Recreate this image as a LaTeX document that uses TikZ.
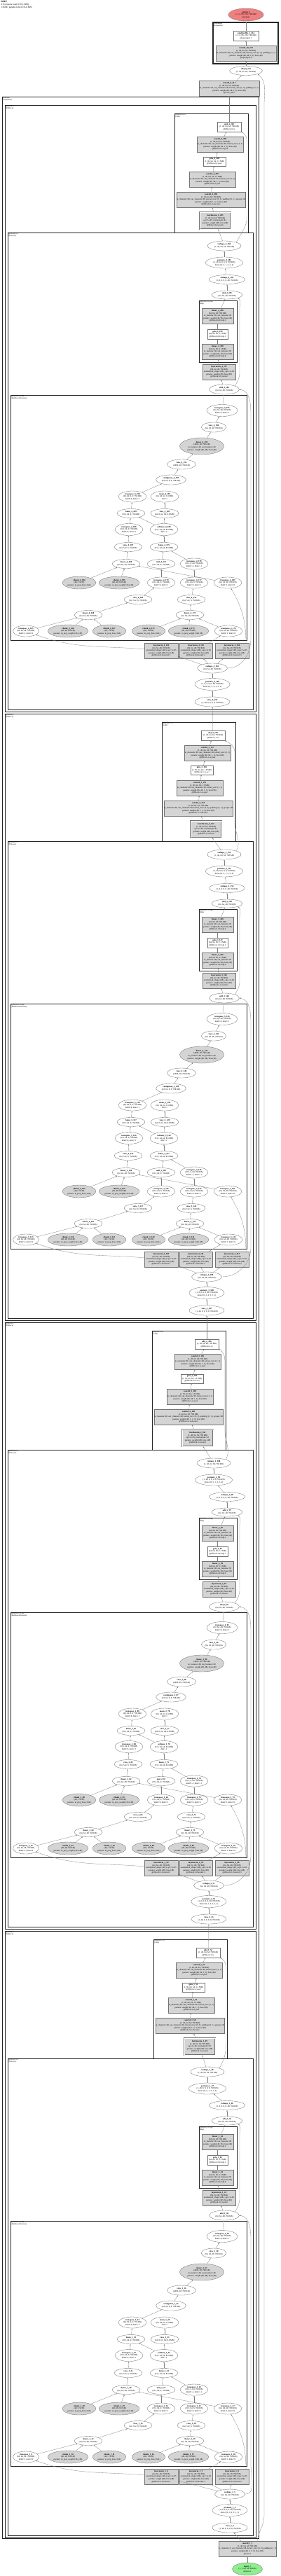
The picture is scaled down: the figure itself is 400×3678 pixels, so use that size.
\documentclass[tikz,border=0pt]{standalone}
\usepackage{fontspec}
\setmainfont{Liberation Serif}
\usetikzlibrary{arrows.meta,shapes.geometric}
\definecolor{outred}{HTML}{F08080}
\definecolor{ingreen}{HTML}{90EE90}
\newcommand\sz{\fontsize{3}{3.6}\selectfont}
\newcommand\ov[1]{\makebox[0pt]{#1}}
\newcommand\nm[2]{\textbf{#1\_\cc\_\the\numexpr\nb+#2\relax}}

\begin{document}
\begin{tikzpicture}[x=1pt,y=-1pt,
  el/.style={draw=black!55,ellipse,line width=0.35pt,inner sep=0pt,align=center,font=\sz,minimum width=40,minimum height=13},
  gel/.style={el,fill=black!17},
  bx/.style={draw=black!55,rectangle,line width=0.35pt,inner sep=0.4pt,align=center,font=\sz},
  gbx/.style={bx,fill=black!17},
  mod/.style={draw=black!85,line width=0.7pt},
  modlab/.style={anchor=north west,align=left,inner sep=0.8pt,font=\fontsize{2.6}{3}\selectfont},
  edge/.style={draw=black!50,line width=0.3pt,-{Latex[length=2pt,width=1.6pt]}}]
  \useasboundingbox (0,0) rectangle (400,3678);
  \node[anchor=north west,align=left,inner sep=0pt,font=\fontsize{3.4}{4}\selectfont] (title) at (1.5,1) {\textbf{DMN}\\215 tensors total (107.1 MB)\\136947 params total (535.0 KB)};

  % output side
  \node[el,fill=outred,minimum width=50,minimum height=18] (out) at (351,21) {\textbf{output\_1}\\(1, 3, 256, 256; 768 KB)\\@output};
  \draw[mod,line width=1.2pt] (304,32) rectangle (397,91);
  \node[modlab] (lupsample) at (304,32) {@upsample\\(Sequential)};
  \node[bx,minimum width=36,minimum height=14] (pshuf) at (351,51) {\textbf{pixelshuffle\_1\_214}\\(1, 3, 256, 256; 768 KB)\\@upsample.1};
  \node[gbx,minimum width=86,minimum height=22] (convup) at (351,76) {\textbf{conv2d\_10\_213}\\(1, 48, 64, 64; 768 KB)\\\ov{in\_channels=48, out\_channels=48, kernel\_size=(3, 3), padding=(1, 1)}\\params: weight (48, 48, 3, 3), bias (48)\\@upsample.0};
  \node[el,minimum width=47,minimum height=13] (add251) at (351,101) {\textbf{add\_9\_212}\\(1, 48, 64, 64; 768 KB)};
  \node[gbx,minimum width=86,minimum height=22] (convafter) at (327,126) {\textbf{conv2d\_9\_211}\\(1, 48, 64, 64; 768 KB)\\\ov{in\_channels=48, out\_channels=48, kernel\_size=(3, 3), padding=(1, 1)}\\params: weight (48, 48, 3, 3), bias (48)\\@conv\_after};
  \draw[mod,line width=0.9pt] (3,138) rectangle (369,3624);
  \node[modlab] (lseq) at (3,138) {@tfblock\\(Sequential)};

  % the four blocks
  \foreach \k/\cx/\ax/\tx/\bx/\bo/\nb/\cc in {0/249/327/320/303/58/159/4,1/231/304/320/295/63/107/3,2/217/295/305/298/65/55/2,3/219/297/296/328/66/3/1}{
  \begin{scope}[shift={(0,869*\k)}]
    \draw[mod,line width=0.9pt] (7,150) rectangle (365,1016);
    \node[modlab] (b\k-lab) at (7,150) {@tfblock.\k\\(TFBlock)};
    \draw[mod] (\cx,162) rectangle (\cx+105,332);
    \node[modlab] (b\k-calab) at (\cx,162) {@tfblock.\k.ca\\(CAB)};
    \node[bx,minimum width=34,minimum height=14] (b\k-caadd) at (\ax,181) {\nm{add}{51}\\(1, 48, 64, 64; 768 KB)\\@tfblock.\k.ca};
    \node[gbx,minimum width=66,minimum height=22] (b\k-pw2) at (\cx+65,206) {\nm{conv2d}{50}\\(1, 48, 64, 64; 768 KB)\\\ov{in\_channels=96, out\_channels=48, kernel\_size=(1, 1)}\\\ov{params: weight (48, 96, 1, 1), bias (48)}\\@tfblock.\k.ca.pw2};
    \node[bx,minimum width=32,minimum height=13] (b\k-act) at (\cx+57,230.5) {\nm{gelu}{49}\\(1, 96, 64, 64; 1.5 MB)\\@tfblock.\k.ca.act};
    \node[gbx,minimum width=66,minimum height=22] (b\k-pw1) at (\cx+54,256) {\nm{conv2d}{48}\\(1, 96, 64, 64; 1.5 MB)\\\ov{in\_channels=48, out\_channels=96, kernel\_size=(1, 1)}\\\ov{params: weight (96, 48, 1, 1), bias (96)}\\@tfblock.\k.ca.pw1};
    \node[gbx,minimum width=98,minimum height=22] (b\k-dw) at (\cx+52,285) {\nm{conv2d}{47}\\(1, 48, 64, 64; 768 KB)\\\ov{in\_channels=48, out\_channels=48, kernel\_size=(3, 3), padding=(1, 1), groups=48}\\params: weight (48, 1, 3, 3), bias (48)\\@tfblock.\k.ca.dwconv};
    \node[gbx,double,minimum width=44,minimum height=24] (b\k-bn) at (\cx+\bo,315) {\nm{batchnorm}{46}\\(1, 48, 64, 64; 768 KB)\\eps=1e-05, momentum=0.1\\\ov{params: weight (48), bias (48)}\\@tfblock.\k.ca.norm};

    \draw[mod] (11,332) rectangle (361,1013);
    \node[modlab] (b\k-tflab) at (11,332) {@tfblock.\k.tf\\(TFLayer)};
    \node[el,minimum width=48,minimum height=14] (b\k-r14) at (\tx,351) {\nm{reshape}{45}\\(1, 48, 64, 64; 768 KB)};
    \node[el,minimum width=53,minimum height=16] (b\k-pm1) at (\tx,375) {\nm{permute}{44}\\(1, 48, 8, 8, 8, 8; 768 KB)\\dims=(0, 5, 1, 3, 2, 4)};
    \node[el,minimum width=51] (b\k-r13) at (324,399) {\nm{reshape}{43}\\(1, 8, 8, 8, 8, 48; 768 KB)};
    \node[el,minimum width=44,minimum height=12] (b\k-addm) at (324,421) {\nm{add}{42}\\(64, 64, 48; 768 KB)};
    \draw[mod,line width=0.6pt] (284,429) rectangle (338,517);
    \node[modlab] (b\k-mlplab) at (284,429) {@tfblock.\k.tf.mlp\\(Mlp)};
    \node[gbx,minimum width=45,minimum height=22] (b\k-fc2) at (310.5,451) {\nm{linear}{41}\\(64, 64, 48; 768 KB)\\\ov{in\_features=96, out\_features=48}\\\ov{params: weight (48, 96), bias (48)}\\@tfblock.\k.tf.mlp.2};
    \node[bx,minimum width=29,minimum height=14] (b\k-gl) at (310.5,477) {\nm{gelu}{40}\\(64, 64, 96; 1.5 MB)\\@tfblock.\k.tf.mlp.1};
    \node[gbx,minimum width=45,minimum height=22] (b\k-fc1) at (310.5,502) {\nm{linear}{39}\\(64, 64, 96; 1.5 MB)\\\ov{in\_features=48, out\_features=96}\\\ov{params: weight (96, 48), bias (96)}\\@tfblock.\k.tf.mlp.0};
    \node[gbx,minimum width=47,minimum height=22] (b\k-ln2) at (312.5,531) {\nm{layernorm}{38}\\(64, 64, 48; 768 KB)\\\ov{normalized\_shape=(48,), eps=1e-05}\\\ov{params: weight (48), bias (48)}\\@tfblock.\k.tf.norm2};
    \node[el,minimum width=43,minimum height=14] (b\k-adda) at (320,556) {\nm{add}{37}\\(64, 64, 48; 768 KB)};

    % attention
    \draw[mod,line width=0.6pt] (15,564) rectangle (352,914);
    \node[modlab] (b\k-attnlab) at (15,564) {@tfblock.\k.tf.attn\\(MultiheadAttention)};
    \node[el,minimum width=44,minimum height=17] (b\k-tr) at (317,586) {\nm{transpose}{36}\\(64, 64, 48; 768 KB)\\dim0=0, dim1=1};
    \node[el,minimum width=35,minimum height=14] (b\k-vo) at (305,610) {\nm{view}{35}\\(64, 64, 48; 768 KB)};
    \node[gel,minimum width=63,minimum height=24] (b\k-proj) at (288,637) {\nm{linear}{34}\\(4096, 48; 768 KB)\\in\_features=48, out\_features=48\\params: weight (48, 48), bias (48)};
    \node[el,minimum width=41,minimum height=14] (b\k-vp) at (259,663) {\nm{view}{33}\\(4096, 48; 768 KB)};
    \node[el,minimum width=43,minimum height=14] (b\k-ct) at (244,685) {\nm{contiguous}{32}\\(64, 64, 8, 6; 768 KB)};
    \node[el,minimum height=16] (b\k-a1) at (189,709) {\nm{transpose}{31}\\(64, 64, 8, 6; 768 KB)\\dim0=0, dim1=1};
    \node[el,minimum height=16] (b\k-a2) at (235,709) {\nm{mean}{23}\\(64, 64, 64; 1.0 MB)\\dim=1};
    \node[el] (b\k-b1) at (187,733) {\nm{bmm}{30}\\(512, 64, 6; 768 KB)};
    \node[el] (b\k-b2) at (235,733) {\nm{view}{22}\\(64, 8, 64, 64; 8.0 MB)};
    \node[el,minimum height=17] (b\k-c1) at (184,756) {\nm{transpose}{29}\\(512, 64, 6; 768 KB)\\dim0=0, dim1=1};
    \node[el,minimum height=17] (b\k-c2) at (234,756) {\nm{softmax}{21}\\(512, 64, 64; 8.0 MB)\\dim=-1};
    \node[el] (b\k-d1) at (183,781) {\nm{view}{28}\\(64, 512, 6; 768 KB)};
    \node[el] (b\k-d2) at (234,781) {\nm{bmm}{20}\\(512, 64, 64; 8.0 MB)};
    \node[el] (b\k-e1) at (180,805) {\nm{linear}{27}\\(64, 64, 48; 768 KB)};
    \node[el] (b\k-e2) at (230,805) {\nm{mul}{12}\\(512, 64, 6; 768 KB)};
    \node[el,minimum height=16] (b\k-e3) at (277,805) {\nm{transpose}{19}\\(512, 6, 64; 768 KB)\\dim0=-2, dim1=-1};
    \node[gel,minimum height=18] (b\k-f1) at (113,832) {\nm{chunk}{25}\\(48,; 192 B)\\params: in\_proj\_bias (144,)};
    \node[gel,minimum height=18] (b\k-f2) at (170,832) {\nm{chunk}{26}\\(48, 48; 9.0 KB)\\params: in\_proj\_weight (144, 48)};
    \node[el,minimum height=16] (b\k-f3) at (230,832) {\nm{transpose}{11}\\(512, 64, 6; 768 KB)\\dim0=0, dim1=1};
    \node[el,minimum height=16] (b\k-f4) at (277,832) {\nm{transpose}{18}\\(512, 64, 6; 768 KB)\\dim0=0, dim1=1};
    \node[el,minimum height=16] (b\k-f5) at (325,832) {\nm{transpose}{24}\\(64, 64, 48; 768 KB)\\dim0=1, dim1=0};
    \node[el] (b\k-g1) at (197,856) {\nm{view}{10}\\(64, 512, 6; 768 KB)};
    \node[el] (b\k-g2) at (273,856) {\nm{view}{17}\\(64, 512, 6; 768 KB)};
    \node[el] (b\k-h1) at (126,878) {\nm{linear}{9}\\(64, 64, 48; 768 KB)};
    \node[el] (b\k-h2) at (271,878) {\nm{linear}{16}\\(64, 64, 48; 768 KB)};
    \node[el,minimum width=37,minimum height=16] (b\k-i1) at (37,901) {\nm{transpose}{6}\\(64, 64, 48; 768 KB)\\dim0=1, dim1=0};
    \node[gel,minimum height=18] (b\k-i2) at (97,901) {\nm{chunk}{7}\\(48, 48; 9.0 KB)\\params: in\_proj\_weight (144, 48)};
    \node[gel,minimum height=18] (b\k-i3) at (156,901) {\nm{chunk}{8}\\(48,; 192 B)\\params: in\_proj\_bias (144,)};
    \node[gel,minimum height=18] (b\k-i4) at (212,901) {\nm{chunk}{13}\\(48,; 192 B)\\params: in\_proj\_bias (144,)};
    \node[gel,minimum height=18] (b\k-i5) at (269,901) {\nm{chunk}{14}\\(48, 48; 9.0 KB)\\params: in\_proj\_weight (144, 48)};
    \node[el,minimum height=16] (b\k-i6) at (326,901) {\nm{transpose}{15}\\(64, 64, 48; 768 KB)\\dim0=1, dim1=0};

    % input side of the layer
    \node[gbx,minimum width=48,minimum height=22] (b\k-lna) at (230,929) {\nm{layernorm}{3}\\(64, 64, 48; 768 KB)\\\ov{normalized\_shape=(48,), eps=1e-05}\\\ov{params: weight (48), bias (48)}\\@tfblock.\k.tf.norm1:1};
    \node[gbx,minimum width=47,minimum height=22] (b\k-lnb) at (279.5,929) {\nm{layernorm}{4}\\(64, 64, 48; 768 KB)\\\ov{normalized\_shape=(48,), eps=1e-05}\\\ov{params: weight (48), bias (48)}\\@tfblock.\k.tf.norm1:2};
    \node[gbx,minimum width=48,minimum height=22] (b\k-lnc) at (331,929) {\nm{layernorm}{5}\\(64, 64, 48; 768 KB)\\\ov{normalized\_shape=(48,), eps=1e-05}\\\ov{params: weight (48), bias (48)}\\@tfblock.\k.tf.norm1:3};
    \node[el,minimum width=43,minimum height=14] (b\k-r) at (\bx,954) {\nm{reshape}{2}\\(64, 64, 48; 768 KB)};
    \node[el,minimum width=50,minimum height=17] (b\k-p) at (\bx,977) {\nm{permute}{1}\\(1, 8, 8, 8, 8, 48; 768 KB)\\dims=(0, 2, 4, 3, 5, 1)};
    \node[el,minimum width=50,minimum height=14] (b\k-v) at (\bx,1002) {\nm{view}{0}\\(1, 48, 8, 8, 8, 8; 768 KB)};
    \coordinate (b\k-s1) at (358,912);
    \coordinate (b\k-s2) at (358,592);
    \coordinate (b\k-m1) at (342,532);
    \coordinate (b\k-m2) at (342,440);
    \coordinate (b\k-q1) at (\cx+104,305);
    \coordinate (b\k-q2) at (\cx+104,205);

    \draw[edge] (b\k-v) -- (b\k-p);
    \draw[edge] (b\k-p) -- (b\k-r);
    \draw[edge] (b\k-r) -- (b\k-lna);
    \draw[edge] (b\k-r) -- (b\k-lnb);
    \draw[edge] (b\k-r) -- (b\k-lnc);
    \draw[edge] (b\k-r.east) to[out=0,in=-90] (b\k-s1) -- (b\k-s2) to[out=90,in=-10] (b\k-adda.east);
    \draw[edge] (b\k-lna) to[out=175,in=-20] (b\k-i1);
    \draw[edge] (b\k-lnb) -- (b\k-i6);
    \draw[edge] ([xshift=20pt]b\k-lnc.north) to[out=90,in=-60] (b\k-f5);
    \draw[edge] (b\k-i1) -- (b\k-h1);
    \draw[edge] (b\k-i2) -- (b\k-h1);
    \draw[edge] (b\k-i3) -- (b\k-h1);
    \draw[edge] (b\k-i4) -- (b\k-h2);
    \draw[edge] (b\k-i5) -- (b\k-h2);
    \draw[edge] (b\k-i6) -- (b\k-h2);
    \draw[edge] (b\k-h1) -- (b\k-g1);
    \draw[edge] (b\k-h2) -- (b\k-g2);
    \draw[edge] (b\k-g1) -- (b\k-f3);
    \draw[edge] (b\k-g2) -- (b\k-f4);
    \draw[edge] (b\k-f1) -- (b\k-e1);
    \draw[edge] (b\k-f2) -- (b\k-e1);
    \draw[edge] (b\k-f5) -- (b\k-e1);
    \draw[edge] (b\k-f3) -- (b\k-e2);
    \draw[edge] (b\k-f4) -- (b\k-e3);
    \draw[edge] (b\k-e1) -- (b\k-d1);
    \draw[edge] (b\k-e2) -- (b\k-d2);
    \draw[edge] (b\k-e3) -- (b\k-d2);
    \draw[edge] (b\k-d1) -- (b\k-c1);
    \draw[edge] (b\k-d2) -- (b\k-c2);
    \draw[edge] (b\k-c1) -- (b\k-b1);
    \draw[edge] (b\k-c2) -- (b\k-b1);
    \draw[edge] (b\k-c2) -- (b\k-b2);
    \draw[edge] (b\k-b1) -- (b\k-a1);
    \draw[edge] (b\k-b2) -- (b\k-a2);
    \draw[edge] (b\k-a1) -- (b\k-ct);
    \draw[edge] (b\k-ct) -- (b\k-vp);
    \draw[edge] (b\k-vp) -- (b\k-proj);
    \draw[edge] (b\k-proj) -- (b\k-vo);
    \draw[edge] (b\k-vo) -- (b\k-tr);
    \draw[edge] (b\k-tr) -- (b\k-adda);
    \draw[edge] (b\k-adda) -- (b\k-ln2);
    \draw[edge] (b\k-ln2) -- (b\k-fc1);
    \draw[edge] (b\k-fc1) -- (b\k-gl);
    \draw[edge] (b\k-gl) -- (b\k-fc2);
    \draw[edge] (b\k-fc2) -- (b\k-addm);
    \draw[edge] (b\k-adda.north east) to[out=60,in=-90] (b\k-m1) -- (b\k-m2) to[out=90,in=-45] (b\k-addm.south east);
    \draw[edge] (b\k-addm) -- (b\k-r13);
    \draw[edge] (b\k-r13) -- (b\k-pm1);
    \draw[edge] (b\k-pm1) -- (b\k-r14);
    \draw[edge] (b\k-r14) -- (b\k-bn);
    \draw[edge] (b\k-bn) -- (b\k-dw);
    \draw[edge] (b\k-dw) -- (b\k-pw1);
    \draw[edge] (b\k-pw1) -- (b\k-act);
    \draw[edge] (b\k-act) -- (b\k-pw2);
    \draw[edge] (b\k-pw2) -- (b\k-caadd);
    \draw[edge] (b\k-r14.north east) to[out=60,in=-90] (b\k-q1) -- (b\k-q2) to[out=90,in=-30] (b\k-caadd.south east);
  \end{scope}
  }

  % input side
  \node[gbx,minimum width=82,minimum height=22] (conv1) at (353,3639) {\textbf{conv2d\_1\_1}\\(1, 48, 64, 64; 768 KB)\\\ov{in\_channels=3, out\_channels=48, kernel\_size=(3, 3), padding=(1, 1)}\\params: weight (48, 3, 3, 3), bias (48)\\@conv1};
  \node[el,fill=ingreen,minimum width=43,minimum height=18] (in) at (353,3668) {\textbf{input\_1}\\(1, 3, 64, 64; 48 KB)\\@input.x};
  \coordinate (skA) at (377,3590);
  \coordinate (skB) at (377,150);

  \foreach \k/\j in {1/0,2/1,3/2}{\draw[edge] (b\k-caadd) -- (b\j-v);}
  \draw[edge] (b0-caadd) -- (convafter);
  \draw[edge] (convafter) -- (add251);
  \draw[edge] (add251) -- (convup);
  \draw[edge] (convup) -- (pshuf);
  \draw[edge] (pshuf) -- (out);
  \draw[edge] (in) -- (conv1);
  \draw[edge] (conv1) -- (b3-v);
  \draw[edge] ([xshift=14pt]conv1.north) to[out=80,in=-90] (skA) -- (skB) to[out=90,in=-40] (add251.south east);
\end{tikzpicture}
\end{document}
